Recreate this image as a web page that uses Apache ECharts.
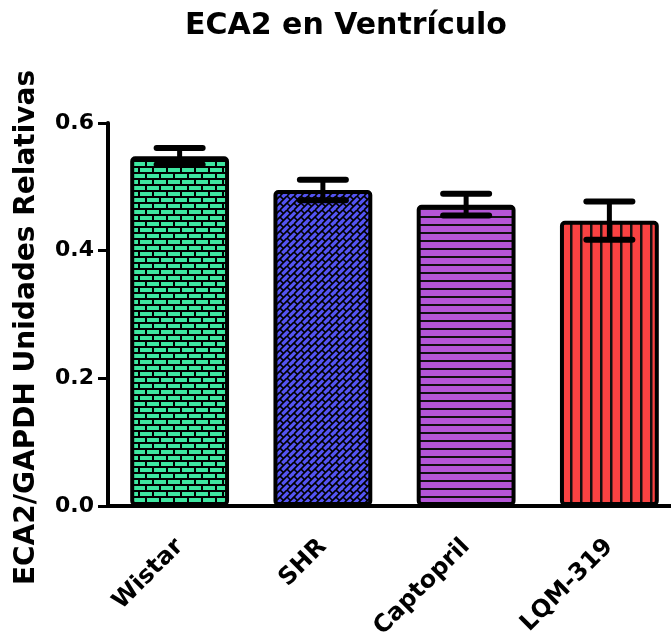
<!DOCTYPE html>
<html>
<head>
<meta charset="utf-8">
<script src="https://cdn.jsdelivr.net/npm/echarts@6/dist/echarts.min.js"></script>
<style>
html,body{margin:0;padding:0;background:#fff;}
#chart{width:671px;height:636px;}
</style>
</head>
<body>
<div id="chart"></div>
<script>
// ---- data ----
var categories = ['Wistar', 'SHR', 'Captopril', 'LQM-319'];
var means = [0.548, 0.495, 0.472, 0.447];
var sems = [0.013, 0.016, 0.017, 0.030];
var yTicks = [0.0, 0.2, 0.4, 0.6];

var FONT = '"DejaVu Sans", Verdana, sans-serif';

// ---- patterns (styles) ----
function makeCanvas(w, h) {
  var c = document.createElement('canvas');
  c.width = w; c.height = h;
  return c;
}
function brickPattern() {
  var c = makeCanvas(14, 12), g = c.getContext('2d');
  g.fillStyle = '#000'; g.fillRect(0, 0, 14, 12);
  g.fillStyle = '#3ee6a0';
  g.fillRect(0, 0, 12, 4);
  g.fillRect(7, 6, 12, 4);
  g.fillRect(-7, 6, 12, 4);
  return c;
}
function weavePattern() {
  var s = 14;
  var h = s / 2;
  var c = makeCanvas(s, s), g = c.getContext('2d');
  g.fillStyle = '#5454f2'; g.fillRect(0, 0, s, s);
  g.strokeStyle = '#000'; g.lineWidth = 1.6;
  for (var cc = -2 * s; cc <= 3 * s; cc += h) {
    g.beginPath(); g.moveTo(cc + s, -s); g.lineTo(cc - s, s); g.stroke();
  }
  var q = h / 2;
  var segs = [[0, 0, q, q], [h, h, h + q, h + q], [h, 0, h + q, q], [0, h, q, h + q]];
  for (var dx = -s; dx <= s; dx += s) {
    for (var dy = -s; dy <= s; dy += s) {
      segs.forEach(function (p) {
        g.beginPath(); g.moveTo(p[0] + dx, p[1] + dy); g.lineTo(p[2] + dx, p[3] + dy); g.stroke();
      });
    }
  }
  return c;
}
function hLinePattern() {
  var c = makeCanvas(8, 8), g = c.getContext('2d');
  g.fillStyle = '#b455d6'; g.fillRect(0, 0, 8, 8);
  g.fillStyle = '#111'; g.fillRect(0, 0, 8, 2);
  return c;
}
function vLinePattern() {
  var c = makeCanvas(10, 10), g = c.getContext('2d');
  g.fillStyle = '#fa4242'; g.fillRect(0, 0, 10, 10);
  g.fillStyle = '#111'; g.fillRect(0, 0, 2.5, 10);
  return c;
}
var fills = [brickPattern(), weavePattern(), hLinePattern(), vLinePattern()];

var barData = means.map(function (v, i) {
  return {
    value: v,
    itemStyle: {
      color: { image: fills[i], repeat: 'repeat' },
      borderColor: '#000', borderWidth: 4, borderRadius: 3
    }
  };
});
var errData = means.map(function (v, i) {
  return [i, v - sems[i], v + sems[i]];
});

var chart = echarts.init(document.getElementById('chart'), null, { renderer: 'canvas' });
chart.setOption({
  animation: false,
  backgroundColor: '#fff',
  title: {
    text: 'ECA2 en Ventrículo',
    left: 180, top: 6,
    textStyle: { fontFamily: FONT, fontWeight: 'bold', fontSize: 30, color: '#000' }
  },
  grid: { left: 108, top: 123, width: 573, bottom: 130, containLabel: false, outerBoundsMode: 'none' },
  xAxis: {
    type: 'category',
    data: categories,
    axisLine: { lineStyle: { color: '#000', width: 4 } },
    axisTick: { alignWithLabel: true, length: 10, lineStyle: { color: '#000', width: 3 } },
    axisLabel: {
      rotate: 45, margin: 37, color: '#000', padding: [48, 0, 0, 0],
      fontFamily: FONT, fontWeight: 'bold', fontSize: 24
    }
  },
  yAxis: {
    type: 'value', min: 0, max: 0.6, interval: 0.2,
    name: 'ECA2/GAPDH Unidades Relativas',
    nameLocation: 'middle', nameGap: 67,
    nameTextStyle: {
      color: '#000', fontFamily: FONT, fontWeight: 'bold', fontSize: 28,
      padding: [0, 26, 0, 0]
    },
    splitLine: { show: false },
    axisLine: { show: true, lineStyle: { color: '#000', width: 4 } },
    axisTick: { show: true, length: 10, lineStyle: { color: '#000', width: 3 } },
    axisLabel: {
      margin: 14, color: '#000',
      fontFamily: FONT, fontWeight: 'bold', fontSize: 22,
      formatter: function (v) { return v.toFixed(1); }
    }
  },
  series: [
    {
      type: 'bar', data: barData, barWidth: '69%', z: 2
    },
    {
      type: 'custom', z: 5,
      data: errData,
      renderItem: function (params, api) {
        var x = api.value(0);
        var lo = api.coord([x, api.value(1)]);
        var hi = api.coord([x, api.value(2)]);
        var cx = lo[0], hw = 23;
        var st = { stroke: '#000', lineWidth: 6, lineCap: 'round' };
        return {
          type: 'group',
          children: [
            { type: 'line', shape: { x1: cx, y1: lo[1], x2: cx, y2: hi[1] }, style: { stroke: '#000', lineWidth: 5 } },
            { type: 'line', shape: { x1: cx - hw, y1: hi[1], x2: cx + hw, y2: hi[1] }, style: st },
            { type: 'line', shape: { x1: cx - hw, y1: lo[1], x2: cx + hw, y2: lo[1] }, style: st }
          ]
        };
      }
    }
  ]
});
</script>
</body>
</html>
